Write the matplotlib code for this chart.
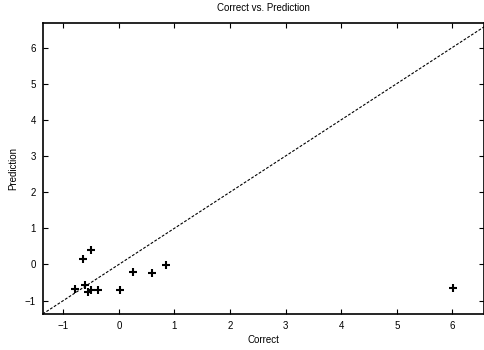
import matplotlib
matplotlib.use("Agg")
import matplotlib.pyplot as plt

plt.rcParams['font.family'] = ['Liberation Sans', 'DejaVu Sans']

# Correct values vs. model predictions
correct = [-0.505, -0.64, -0.78, -0.61, -0.55, -0.50, -0.37, 0.02, 0.25, 0.59, 0.85, 6.02]
prediction = [0.40, 0.15, -0.67, -0.58, -0.75, -0.72, -0.71, -0.70, -0.22, -0.24, -0.02, -0.65]
xticks = [-1, 0, 1, 2, 3, 4, 5, 6]
yticks = [-1, 0, 1, 2, 3, 4, 5, 6]
lo, hi = -1.37, 6.67

fig = plt.figure(figsize=(4.84, 3.5), dpi=100)
ax = fig.add_axes([0.0882, 0.1029, 0.9118, 0.8306])

ax.plot([lo, hi], [lo, hi], color='black', lw=0.8, linestyle=(0, (2.5, 1.5)))
ax.plot(correct, prediction, linestyle='none', marker='+', color='black',
        markersize=5.5, markeredgewidth=1.5)

ax.set_xlim(lo, 6.57)
ax.set_ylim(lo, hi)
ax.set_xticks(xticks)
ax.set_yticks(yticks)
ax.tick_params(direction='in', length=3.5, width=0.8, labelsize=7,
               top=True, right=True, pad=5)
for s in ax.spines.values():
    s.set_linewidth(1.2)

ax.set_title('Correct vs. Prediction', fontsize=7, pad=9)
ax.set_xlabel('Correct', fontsize=7, labelpad=3)
ax.set_ylabel('Prediction', fontsize=7)
ax.yaxis.set_label_coords(-0.056, 0.5)

fig.savefig('out.png', dpi=100)
